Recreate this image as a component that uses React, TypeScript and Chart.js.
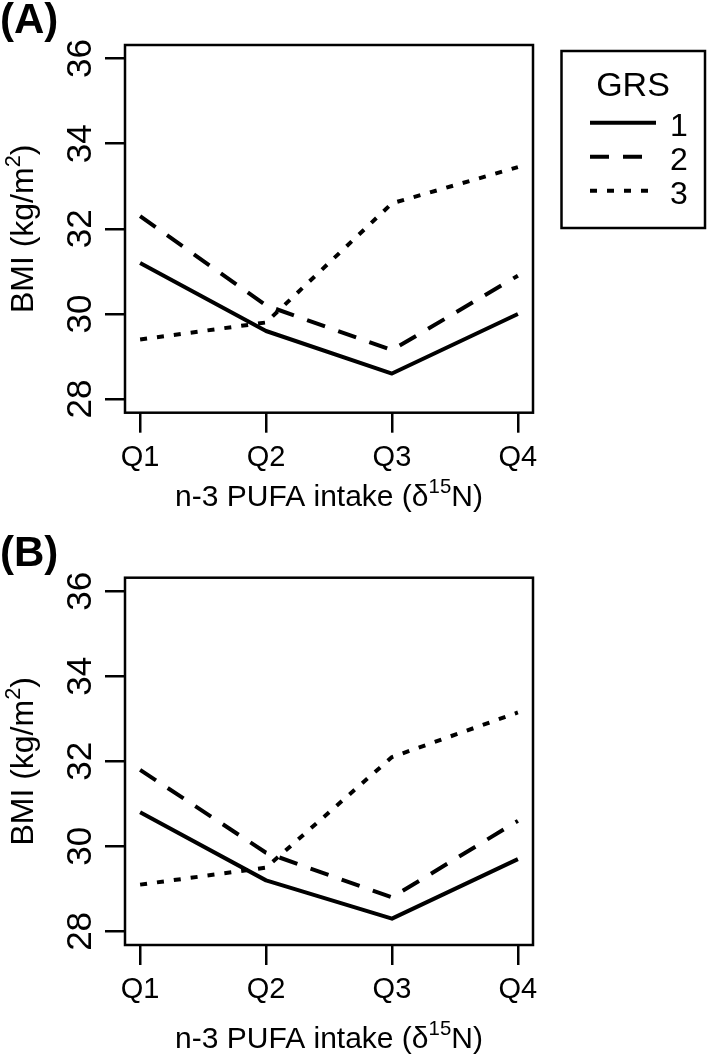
import React, { useEffect, useRef } from 'react';
import { Chart, registerables } from 'chart.js';

Chart.register(...registerables);

// ---- data ----
const categories = ['Q1', 'Q2', 'Q3', 'Q4'];
const yTicks = [28, 30, 32, 34, 36];
const grsLabels = ['1', '2', '3'];

const panelA_grs1 = [31.2, 29.6, 28.6, 30.0];
const panelA_grs2 = [32.3, 30.2, 29.15, 30.9];
const panelA_grs3 = [29.4, 29.8, 32.6, 33.45];

const panelB_grs1 = [30.8, 29.2, 28.3, 29.7];
const panelB_grs2 = [31.8, 29.85, 28.8, 30.6];
const panelB_grs3 = [29.1, 29.5, 32.1, 33.15];

const FONT = "'Liberation Sans', Arial, Helvetica, sans-serif";
const W = 708;
const H = 527;

const dashStyles: number[][] = [[], [19, 14], [7, 10]];

type Part = { t: string; sup?: boolean };

function drawRich(ctx: CanvasRenderingContext2D, parts: Part[], size: number, x: number, y: number, rotate: boolean) {
  ctx.save();
  ctx.translate(x, y);
  if (rotate) ctx.rotate(-Math.PI / 2);
  const supSize = size * 0.68;
  const widths = parts.map((p) => {
    ctx.font = `${p.sup ? supSize : size}px ${FONT}`;
    return ctx.measureText(p.t).width;
  });
  const total = widths.reduce((a, b) => a + b, 0);
  let cx = -total / 2;
  ctx.textAlign = 'left';
  ctx.textBaseline = 'alphabetic';
  ctx.fillStyle = '#000';
  parts.forEach((p, i) => {
    ctx.font = `${p.sup ? supSize : size}px ${FONT}`;
    ctx.fillText(p.t, cx, p.sup ? -size * 0.42 : 0);
    cx += widths[i];
  });
  ctx.restore();
}

interface PanelCfg {
  label: string;
  series: number[][];
  top: number;
  bottom: number;
  labelBaseline: number;
  xTitleBaseline: number;
  showLegend: boolean;
}

function makeDecor(cfg: PanelCfg) {
  return {
    id: 'decor' + cfg.label,
    afterDraw(chart: any) {
      const ctx: CanvasRenderingContext2D = chart.ctx;
      const area = chart.chartArea;
      const ys = chart.scales.y;
      ctx.save();
      // box
      ctx.strokeStyle = '#000';
      ctx.lineWidth = 2.5;
      ctx.setLineDash([]);
      ctx.strokeRect(area.left, area.top, area.right - area.left, area.bottom - area.top);
      // y tick labels (rotated)
      ctx.fillStyle = '#000';
      ctx.font = `35px ${FONT}`;
      yTicks.forEach((v) => {
        const py = ys.getPixelForValue(v);
        ctx.save();
        ctx.translate(91, py);
        ctx.rotate(-Math.PI / 2);
        ctx.textAlign = 'center';
        ctx.textBaseline = 'alphabetic';
        ctx.fillText(String(v), 0, 0);
        ctx.restore();
      });
      // y title
      drawRich(ctx, [{ t: 'BMI (kg/m' }, { t: '2', sup: true }, { t: ')' }], 32, 33, (area.top + area.bottom) / 2, true);
      // x title
      drawRich(ctx, [{ t: 'n-3 PUFA intake (\u03b4' }, { t: '15', sup: true }, { t: 'N)' }], 30, (area.left + area.right) / 2, cfg.xTitleBaseline, false);
      // panel label
      ctx.font = `bold 42px ${FONT}`;
      ctx.textAlign = 'left';
      ctx.textBaseline = 'alphabetic';
      ctx.fillText(cfg.label, 0, cfg.labelBaseline);
      // legend
      if (cfg.showLegend) {
        ctx.lineWidth = 2.5;
        ctx.strokeRect(561.5, 51, 143.5, 177);
        ctx.font = `34px ${FONT}`;
        ctx.textAlign = 'center';
        ctx.fillText('GRS', 633, 96);
        const ds = chart.data.datasets;
        const lineYs = [122.7, 156.7, 190.7];
        ds.forEach((d: any, i: number) => {
          ctx.save();
          ctx.strokeStyle = '#000';
          ctx.lineWidth = 4;
          ctx.lineCap = 'butt';
          ctx.setLineDash(d.borderDash || []);
          ctx.beginPath();
          ctx.moveTo(590, lineYs[i]);
          ctx.lineTo(656, lineYs[i]);
          ctx.stroke();
          ctx.restore();
          ctx.font = `32px ${FONT}`;
          ctx.textAlign = 'left';
          ctx.fillText(d.label, 670, lineYs[i] + 13);
        });
      }
      ctx.restore();
    },
  };
}

function Panel({ cfg, top }: { cfg: PanelCfg; top: number }) {
  const ref = useRef<HTMLCanvasElement | null>(null);
  useEffect(() => {
    if (!ref.current) return;
    const datasets = cfg.series.map((vals, si) => ({
      label: grsLabels[si],
      data: vals.map((v, i) => ({ x: i + 1, y: v })),
      borderColor: '#000',
      backgroundColor: '#000',
      borderWidth: 4,
      borderDash: dashStyles[si],
      borderCapStyle: 'butt' as const,
      borderJoinStyle: 'round' as const,
      pointRadius: 0,
      fill: false,
      tension: 0,
    }));
    const chart = new Chart(ref.current, {
      type: 'line',
      data: { datasets },
      options: {
        responsive: false,
        animation: false,
        devicePixelRatio: 1,
        layout: { padding: { left: 0, top: cfg.top, right: W - 533, bottom: 0 } },
        plugins: { legend: { display: false }, tooltip: { enabled: false }, title: { display: false } },
        scales: {
          x: {
            type: 'linear',
            min: 0.88,
            max: 4.12,
            afterBuildTicks: (s: any) => {
              s.ticks = categories.map((_, i) => ({ value: i + 1 }));
            },
            afterFit: (s: any) => {
              s.height = H - cfg.bottom;
            },
            ticks: {
              autoSkip: false,
              maxRotation: 0,
              minRotation: 0,
              padding: 8,
              color: '#000',
              font: { family: FONT, size: 29 },
              callback: (v: any) => categories[Math.round(Number(v)) - 1] ?? '',
            },
            grid: { display: true, drawOnChartArea: false, drawTicks: true, tickLength: 20, lineWidth: 2.5, color: '#000' },
            border: { display: false },
          },
          y: {
            type: 'linear',
            min: 27.68,
            max: 36.32,
            afterBuildTicks: (s: any) => {
              s.ticks = yTicks.map((v) => ({ value: v }));
            },
            afterFit: (s: any) => {
              s.width = 125;
            },
            ticks: { display: false },
            grid: { display: true, drawOnChartArea: false, drawTicks: true, tickLength: 20, lineWidth: 2.5, color: '#000' },
            border: { display: false },
          },
        },
      },
      plugins: [makeDecor(cfg)],
    } as any);
    return () => chart.destroy();
  }, [cfg]);
  return (
    <canvas
      ref={ref}
      width={W}
      height={H}
      style={{ position: 'absolute', left: 0, top, width: W, height: H, display: 'block' }}
    />
  );
}

const cfgA: PanelCfg = {
  label: '(A)',
  series: [panelA_grs1, panelA_grs2, panelA_grs3],
  top: 45,
  bottom: 412.7,
  labelBaseline: 33,
  xTitleBaseline: 506,
  showLegend: true,
};

const cfgB: PanelCfg = {
  label: '(B)',
  series: [panelB_grs1, panelB_grs2, panelB_grs3],
  top: 50.7,
  bottom: 418,
  labelBaseline: 39,
  xTitleBaseline: 521,
  showLegend: false,
};

export default function App() {
  return (
    <div style={{ position: 'absolute', left: 0, top: 0, width: W, height: 1054, background: '#fff' }}>
      <Panel cfg={cfgA} top={0} />
      <Panel cfg={cfgB} top={527} />
    </div>
  );
}
